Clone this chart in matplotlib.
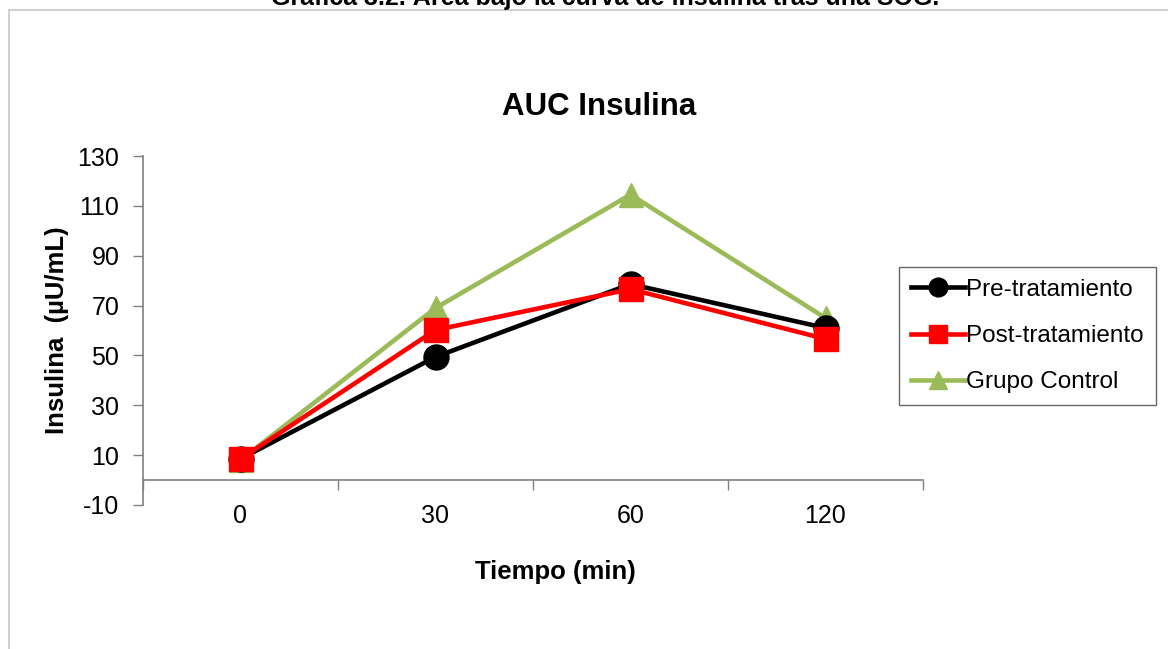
import matplotlib.pyplot as plt
from matplotlib.patches import Rectangle

plt.rcParams['font.family'] = ['Liberation Sans', 'DejaVu Sans']
plt.rcParams['axes.unicode_minus'] = False

# data
tiempos = ["0", "30", "60", "120"]
pre = [8.5, 49.4, 78.6, 61.0]
post = [8.5, 60.2, 76.6, 56.6]
control = [8.0, 69.0, 114.5, 65.0]

fig = plt.figure(figsize=(11.68, 6.49), dpi=100)

# outer chart border (light gray)
fig.patches.append(Rectangle((9 / 1168, -0.01), 1.02, 1 - 10 / 649 + 0.01,
                             transform=fig.transFigure, fill=False,
                             edgecolor="#c8c8c8", linewidth=1.2))

# caption cut off at the top edge, as in the source
fig.text(605 / 1168, 1.006, "Gráfica 3.2. Área bajo la curva de insulina tras una SOG.",
         ha="center", va="center", fontsize=18, fontweight="bold")

ax = fig.add_axes([143 / 1168, 1 - 505 / 649, (923 - 143) / 1168, (505 - 156) / 649])
x = range(len(tiempos))

ax.plot(x, pre, color="black", linewidth=3.3, marker="o", markersize=18,
        label="Pre-tratamiento", zorder=3)
ax.plot(x, post, color="#ff0000", linewidth=3.3, marker="s", markersize=17,
        label="Post-tratamiento", zorder=4)
ax.plot(x, control, color="#9bbb59", linewidth=3.3, marker="^", markersize=17,
        label="Grupo Control", zorder=2)

ax.set_xlim(-0.5, 3.5)
ax.set_ylim(-10, 130)
ax.set_yticks(range(-10, 131, 20))

ax.spines["top"].set_visible(False)
ax.spines["right"].set_visible(False)
ax.spines["bottom"].set_position(("data", 0))
for s in ("left", "bottom"):
    ax.spines[s].set_color("#808080")
    ax.spines[s].set_linewidth(1.2)

# ticks between categories on the x axis, labels below the plot area
ax.set_xticks([-0.5, 0.5, 1.5, 2.5, 3.5])
ax.set_xticklabels([])
ax.tick_params(axis="x", length=7, width=1, color="#808080", direction="out")
for i, t in enumerate(tiempos):
    ax.text(i, -9.5, t, ha="center", va="top", fontsize=18)
ax.tick_params(axis="y", length=7, width=1, color="#808080", labelsize=18, pad=10)

fig.text(599 / 1168, 1 - 107 / 649, "AUC Insulina", ha="center", va="center",
         fontsize=22.5, fontweight="bold")
ax.set_ylabel("Insulina  (µU/mL)", fontsize=18.5, fontweight="bold", labelpad=6)
fig.text(555 / 1168, 1 - 572 / 649, "Tiempo (min)", ha="center", va="center",
         fontsize=18.5, fontweight="bold")

leg = ax.legend(loc="center left", bbox_to_anchor=(899 / 1168, 1 - 336 / 649),
                bbox_transform=fig.transFigure, fontsize=17.5, frameon=True,
                fancybox=False, edgecolor="#404040", handlelength=2.2,
                handletextpad=0.05, labelspacing=1.0, borderpad=0.5,
                borderaxespad=0, markerscale=0.75)
leg.get_frame().set_linewidth(1.0)

fig.savefig("out.png", dpi=100)
